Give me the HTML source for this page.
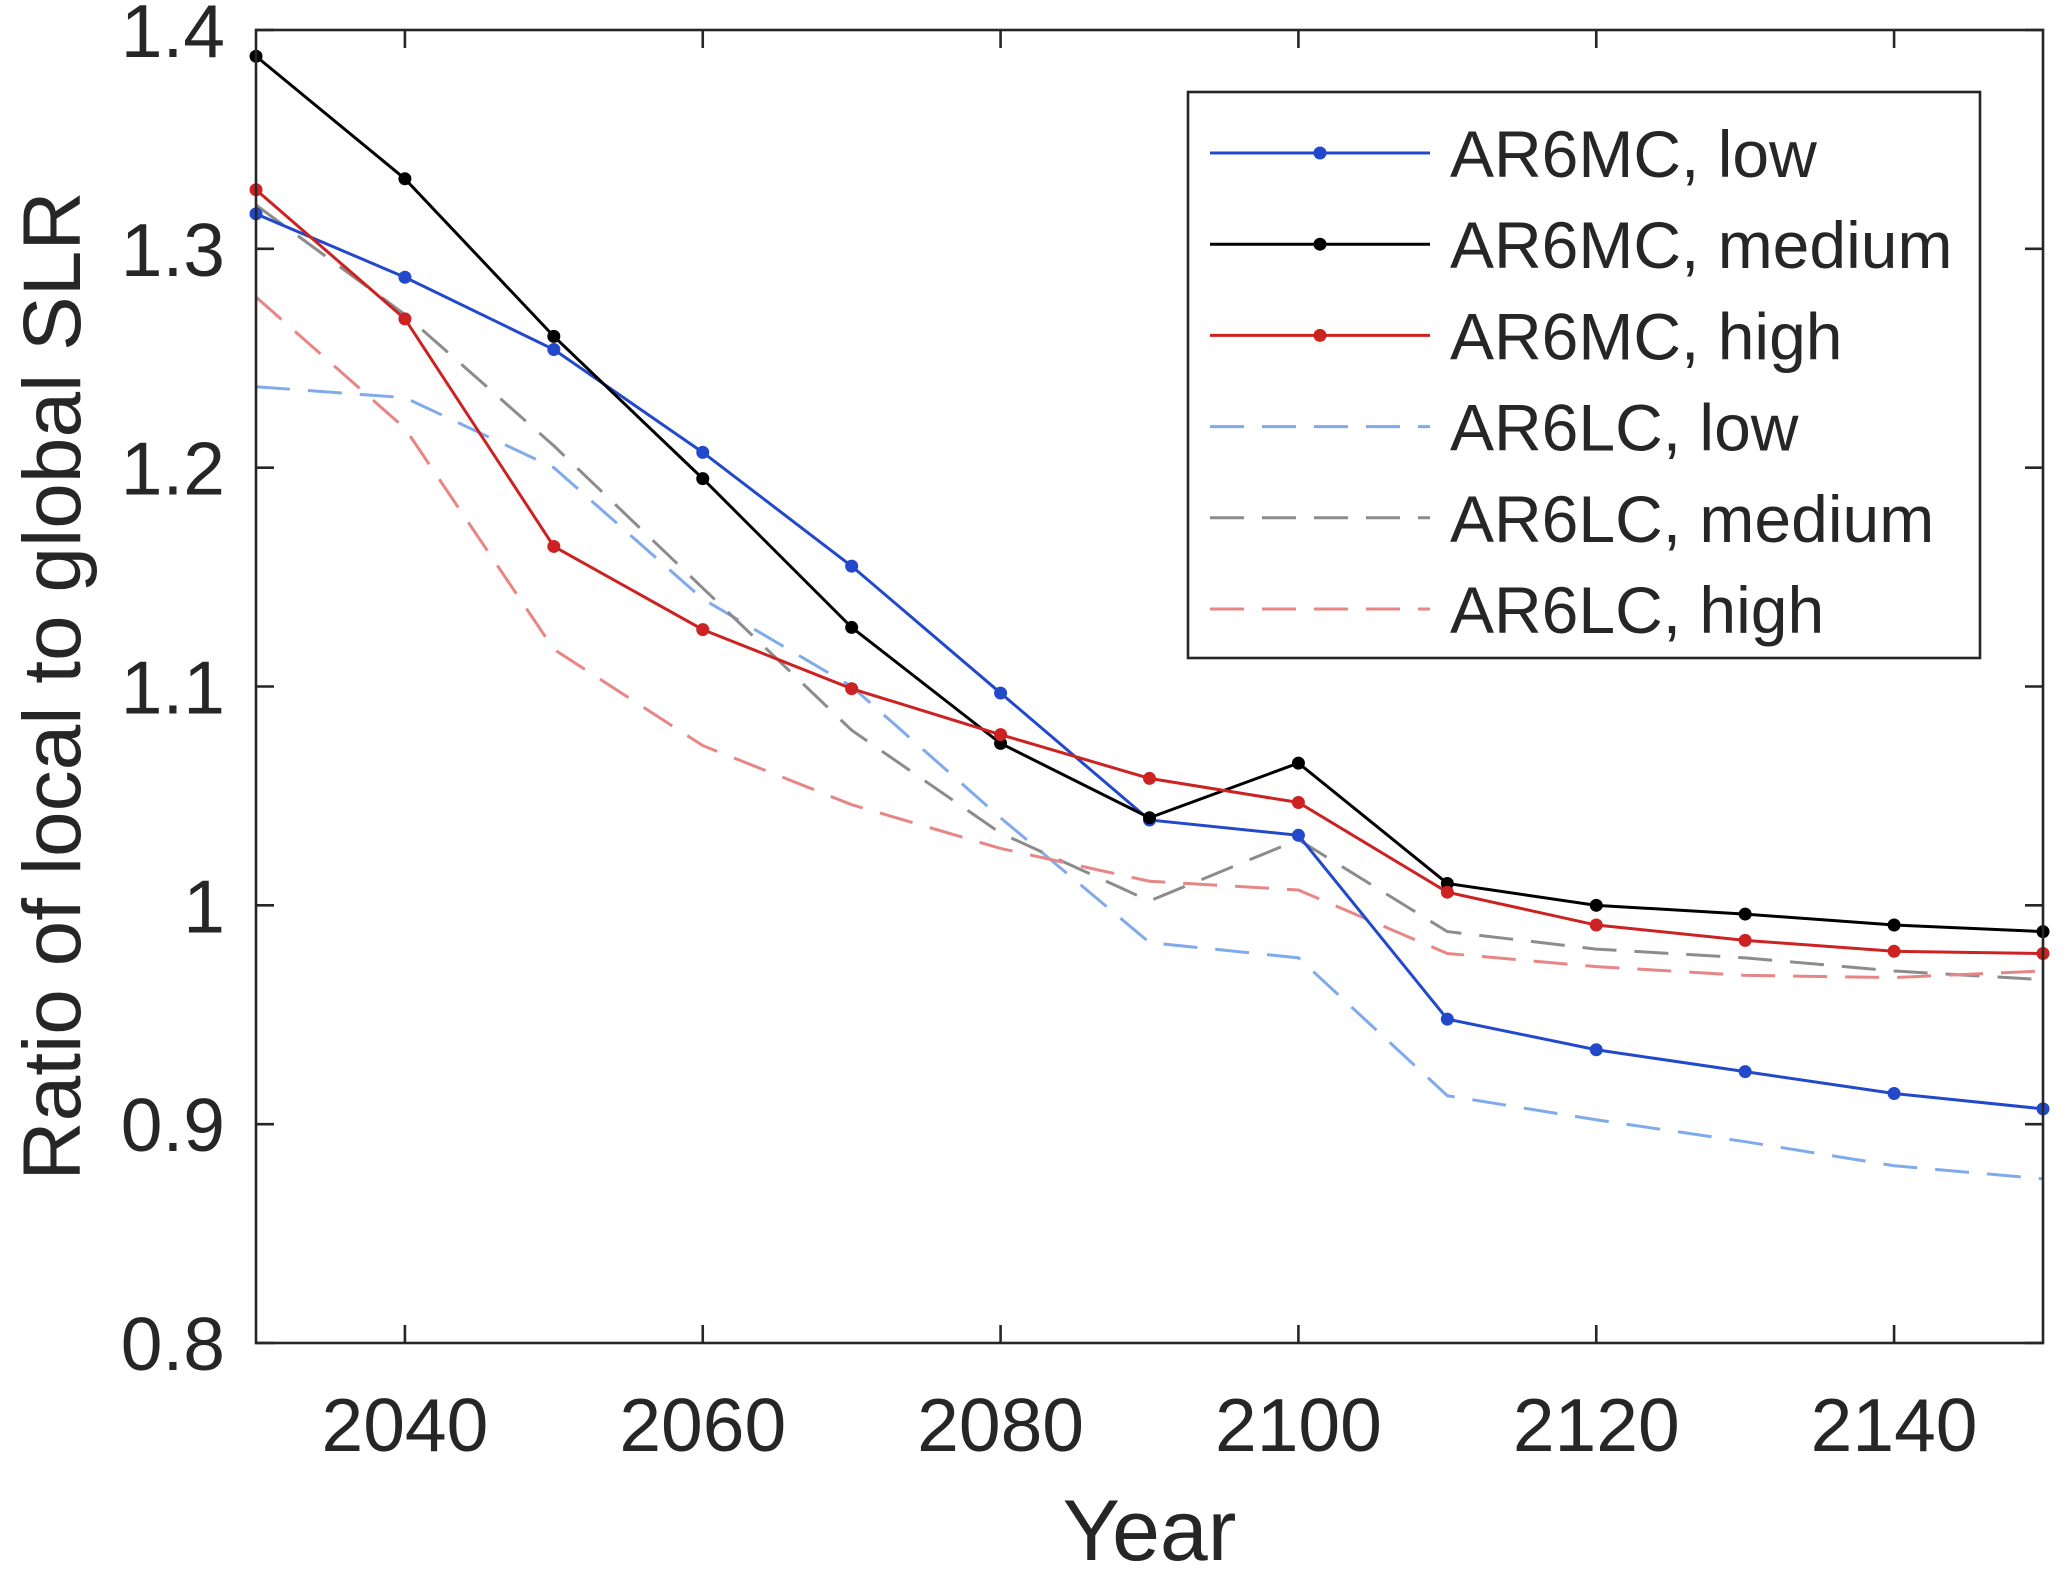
<!DOCTYPE html>
<html><head><meta charset="utf-8"><style>
body{margin:0;background:#fff}
svg{display:block;font-family:"Liberation Sans",Arial,sans-serif}
</style></head><body>
<svg id="chart" width="2067" height="1572" viewBox="0 0 2067 1572" xmlns="http://www.w3.org/2000/svg"></svg>
<script>
const years=[2030,2040,2050,2060,2070,2080,2090,2100,2110,2120,2130,2140,2150];
const mcLow=[1.316,1.287,1.254,1.207,1.155,1.097,1.039,1.032,0.948,0.934,0.924,0.914,0.907];
const mcMed=[1.388,1.332,1.260,1.195,1.127,1.074,1.040,1.065,1.010,1.000,0.996,0.991,0.988];
const mcHigh=[1.327,1.268,1.164,1.126,1.099,1.078,1.058,1.047,1.006,0.991,0.984,0.979,0.978];
const lcLow=[1.237,1.232,1.200,1.140,1.100,1.040,0.983,0.976,0.913,0.902,0.892,0.881,0.875];
const lcMed=[1.320,1.270,1.210,1.145,1.080,1.033,1.002,1.030,0.988,0.980,0.976,0.970,0.966];
const lcHigh=[1.278,1.218,1.117,1.073,1.046,1.026,1.011,1.007,0.978,0.972,0.968,0.967,0.970];
const xTicks=[2040,2060,2080,2100,2120,2140];
const yTicks=[0.8,0.9,1,1.1,1.2,1.3,1.4];
const yTickLabels=["0.8","0.9","1","1.1","1.2","1.3","1.4"];
const seriesNames=["AR6MC, low","AR6MC, medium","AR6MC, high","AR6LC, low","AR6LC, medium","AR6LC, high"];

const L=256,R=2043,T=30,B=1343;
const xs=v=>L+(v-2030)/(2150-2030)*(R-L);
const ys=v=>B-(v-0.8)/(1.4-0.8)*(B-T);
const svg=document.getElementById('chart');
const NS='http://www.w3.org/2000/svg';
function mk(tag,attrs,parent){const e=document.createElementNS(NS,tag);for(const k in attrs)e.setAttribute(k,attrs[k]);(parent||svg).appendChild(e);return e;}

const series=[
 {d:lcLow,c:'#7fabeb',dash:'34 18',m:false,n:'series-ar6lc-low'},
 {d:lcMed,c:'#8c8c8c',dash:'34 18',m:false,n:'series-ar6lc-medium'},
 {d:lcHigh,c:'#e88585',dash:'34 18',m:false,n:'series-ar6lc-high'},
 {d:mcLow,c:'#2248cc',dash:'',m:true,n:'series-ar6mc-low'},
 {d:mcMed,c:'#000000',dash:'',m:true,n:'series-ar6mc-medium'},
 {d:mcHigh,c:'#cc2222',dash:'',m:true,n:'series-ar6mc-high'}
];
const g=mk('g',{});


series.forEach(s=>{
 const p=mk('polyline',{points:s.d.map((v,i)=>xs(years[i])+','+ys(v)).join(' '),fill:'none',stroke:s.c,'stroke-width':3,'stroke-dasharray':s.dash},g);
 
 
 if(s.m)s.d.forEach((v,i)=>{const c=mk('circle',{cx:xs(years[i]),cy:ys(v),r:6.5,fill:s.c},g);
  
  });
});
const box=mk('rect',{x:L,y:T,width:R-L,height:B-T,fill:'none',stroke:'#262626','stroke-width':2.6});


xTicks.forEach(v=>{const x=xs(v);
 mk('line',{x1:x,x2:x,y1:B,y2:B-18,stroke:'#262626','stroke-width':2.6});
 mk('line',{x1:x,x2:x,y1:T,y2:T+18,stroke:'#262626','stroke-width':2.6});
 const t=mk('text',{x:x,y:B+108,'font-size':75,'text-anchor':'middle',fill:'#262626'});t.textContent=v;
 
 });
yTicks.forEach((v,i)=>{const y=ys(v);
 mk('line',{x1:L,x2:L+18,y1:y,y2:y,stroke:'#262626','stroke-width':2.6});
 mk('line',{x1:R,x2:R-18,y1:y,y2:y,stroke:'#262626','stroke-width':2.6});
 const t=mk('text',{x:225,y:y+27,'font-size':75,'text-anchor':'end',fill:'#262626'});t.textContent=yTickLabels[i];
 
 });
const xt=mk('text',{x:(L+R)/2,y:1560,'font-size':86,'text-anchor':'middle',fill:'#262626'});xt.textContent='Year';


const yt=mk('text',{x:0,y:0,'font-size':82,'text-anchor':'middle',fill:'#262626',transform:'translate(80,686) rotate(-90)'});yt.textContent='Ratio of local to global SLR';


const lg=mk('g',{});


mk('rect',{x:1188,y:92,width:792,height:566,fill:'#fff',stroke:'#262626','stroke-width':2.6},lg);
const order=[3,4,5,0,1,2];
order.forEach((si,k)=>{const s=series[si];const y=153+k*91.2;
 const e=mk('g',{},lg);
 
 
 mk('line',{x1:1210,x2:1430,y1:y,y2:y,stroke:s.c,'stroke-width':3,'stroke-dasharray':s.dash},e);
 if(s.m)mk('circle',{cx:1320,cy:y,r:6.5,fill:s.c},e);
 const t=mk('text',{x:1450,y:y+24,'font-size':66,fill:'#262626'},e);t.textContent=seriesNames[k];
});
</script>
</body></html>
